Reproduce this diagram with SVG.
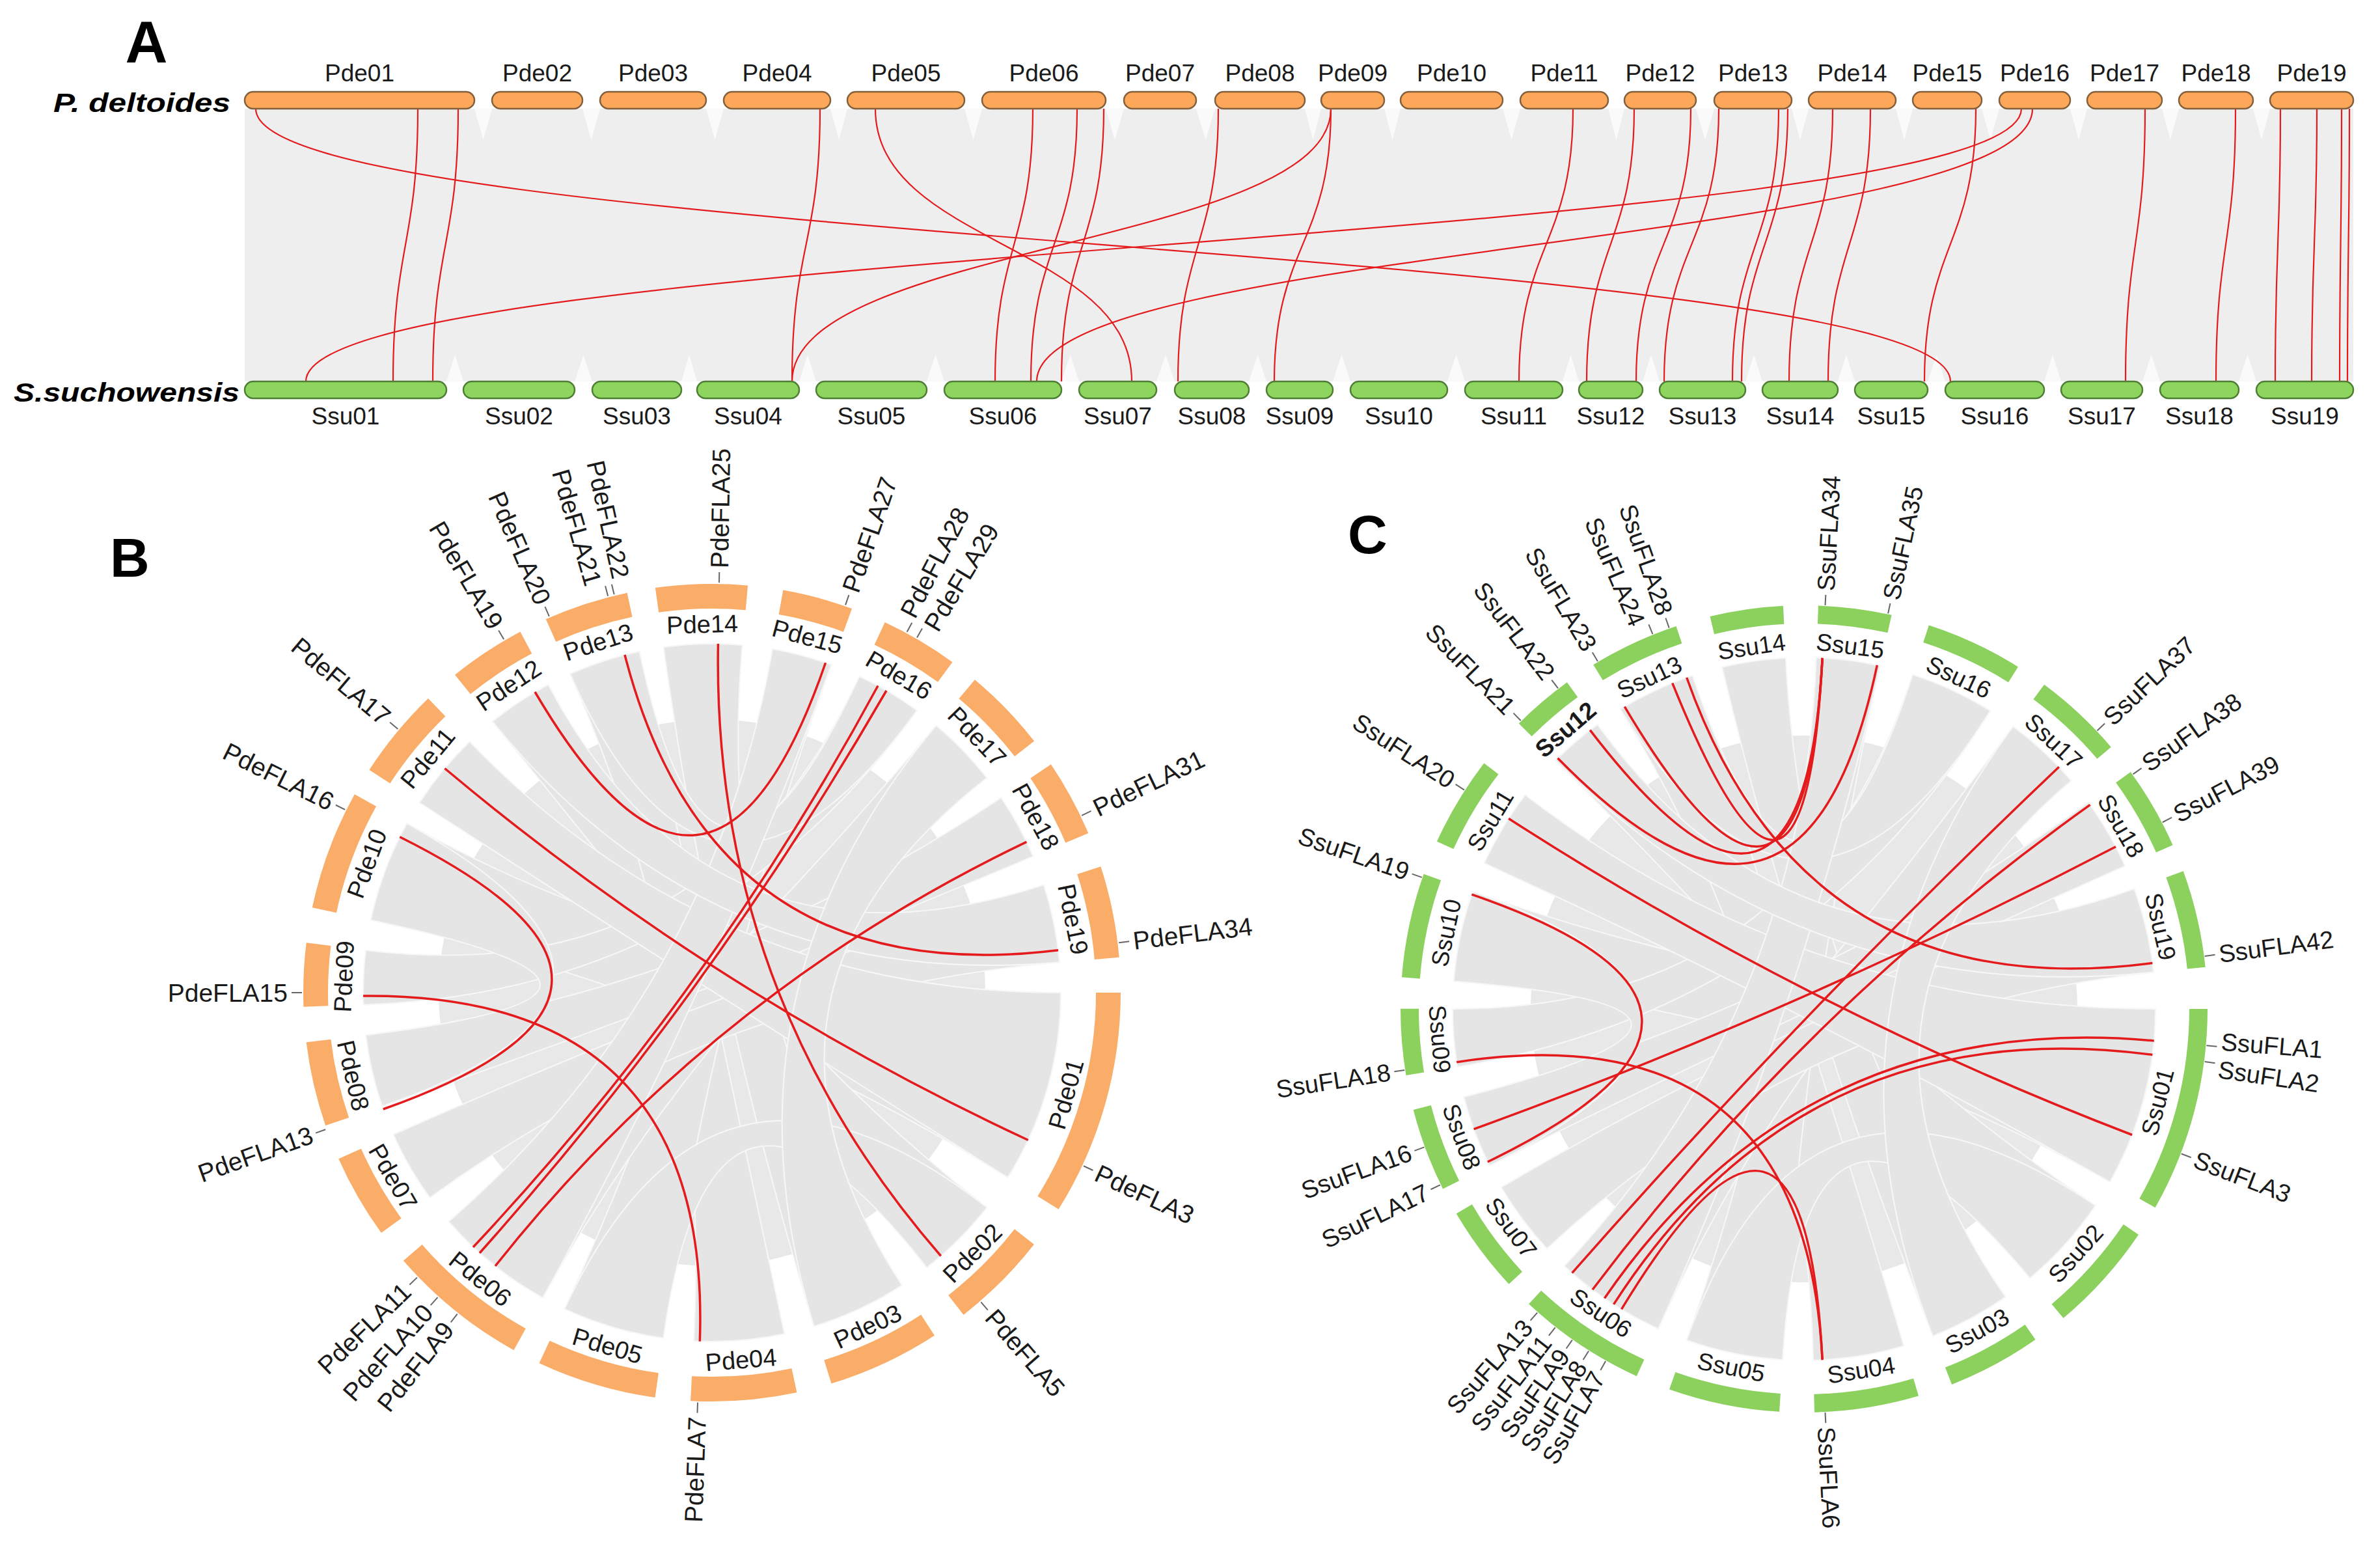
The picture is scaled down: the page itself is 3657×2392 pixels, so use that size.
<svg xmlns="http://www.w3.org/2000/svg" width="3657" height="2392" viewBox="0 0 3657 2392">
<style>
.t{font-family:"Liberation Sans",Arial,sans-serif;fill:#1a1a1a}
.al{font-size:37px;text-anchor:middle}
.cl{font-size:38px;text-anchor:middle;dominant-baseline:central}
.cl2{font-size:37px;text-anchor:middle;dominant-baseline:central}
.gl{font-size:39px;dominant-baseline:central}
.gl2{font-size:38px;dominant-baseline:central}
.gs{text-anchor:start}
.ge{text-anchor:end}
.tk{stroke:#666;stroke-width:2}
.pbar{fill:#FCA75A;stroke:#84603C;stroke-width:2.5}
.sbar{fill:#8DD55F;stroke:#4F7F35;stroke-width:2.5}
.lnk{fill:none;stroke:#E41A1C}
.la{stroke-width:2.2}
.lc{stroke-width:3.5}
.rib{fill:#e5e5e5;stroke:#f7f7f7;stroke-width:2}
.core{fill:#e8e8e8}
.rB{fill:none;stroke:#FAAD68;stroke-width:38}
.rC{fill:none;stroke:#8CD05E;stroke-width:28}
.big{font-family:"Liberation Sans",Arial,sans-serif;font-weight:bold;fill:#000}
</style>
<rect width="3657" height="2392" fill="#fff"/>

<!-- Panel titles -->
<text class="big" x="225" y="96" font-size="90" text-anchor="middle">A</text>
<text class="big" x="169" y="886" font-size="84">B</text>
<text class="big" x="2071" y="850" font-size="84">C</text>
<text class="big" x="82" y="172" font-size="40" font-style="italic" textLength="272" lengthAdjust="spacingAndGlyphs">P. deltoides</text>
<text class="big" x="21" y="617" font-size="40" font-style="italic" textLength="347" lengthAdjust="spacingAndGlyphs">S.suchowensis</text>

<!-- Panel A background -->
<g id="A-background">
<rect x="376" y="167" width="3240" height="419" fill="#eeeeee"/>
<path fill="#fafafa" d="M729,167L756,167L742.5,215ZM895,167L922,167L908.5,215ZM1085,167L1112,167L1098.5,215ZM1276,167L1302,167L1289,215ZM1482,167L1509,167L1495.5,215ZM1699,167L1727,167L1713,215ZM1838,167L1867,167L1852.5,215ZM2005,167L2030,167L2017.5,215ZM2127,167L2152,167L2139.5,215ZM2309,167L2336,167L2322.5,215ZM2471,167L2496,167L2483.5,215ZM2606,167L2634,167L2620,215ZM2753,167L2779,167L2766,215ZM2913,167L2939,167L2926,215ZM3045,167L3072,167L3058.5,215ZM3181,167L3207,167L3194,215ZM3322,167L3348,167L3335,215ZM3462,167L3488,167L3475,215Z"/>
<path fill="#fafafa" d="M686,586L712,586L699,545ZM883,586L910,586L896.5,545ZM1047,586L1071,586L1059,545ZM1228,586L1254,586L1241,545ZM1424,586L1451,586L1437.5,545ZM1631,586L1658,586L1644.5,545ZM1777,586L1805,586L1791,545ZM1919,586L1946,586L1932.5,545ZM2048,586L2075,586L2061.5,545ZM2224,586L2251,586L2237.5,545ZM2401,586L2426,586L2413.5,545ZM2524,586L2550,586L2537,545ZM2682,586L2708,586L2695,545ZM2824,586L2850,586L2837,545ZM2962,586L2989,586L2975.5,545ZM3141,586L3167,586L3154,545ZM3292,586L3319,586L3305.5,545ZM3440,586L3467,586L3453.5,545Z"/>
</g>

<g id="connectors">
<g id="A-links" class="lnk la">
<path d="M393,167C393,376 2997,376 2997,586"/>
<path d="M642,167C642,376 604,376 604,586"/>
<path d="M704,167C704,376 665,376 665,586"/>
<path d="M1260,167C1260,376 1217,376 1217,586"/>
<path d="M1345,167C1345,376 1739,376 1739,586"/>
<path d="M1587,167C1587,376 1529,376 1529,586"/>
<path d="M1655,167C1655,376 1584,376 1584,586"/>
<path d="M1696,167C1696,376 1631,376 1631,586"/>
<path d="M1872,167C1872,376 1810,376 1810,586"/>
<path d="M2045,167C2045,376 1217,376 1217,586"/>
<path d="M2045,167C2045,376 1958,376 1958,586"/>
<path d="M2417,167C2417,376 2334,376 2334,586"/>
<path d="M2511,167C2511,376 2438,376 2438,586"/>
<path d="M2598,167C2598,376 2514,376 2514,586"/>
<path d="M2641,167C2641,376 2557,376 2557,586"/>
<path d="M2733,167C2733,376 2662,376 2662,586"/>
<path d="M2747,167C2747,376 2676,376 2676,586"/>
<path d="M2816,167C2816,376 2749,376 2749,586"/>
<path d="M2874,167C2874,376 2809,376 2809,586"/>
<path d="M3036,167C3036,376 2957,376 2957,586"/>
<path d="M3106,167C3106,376 470,376 470,586"/>
<path d="M3123,167C3123,376 1593,376 1593,586"/>
<path d="M3296,167C3296,376 3266,376 3266,586"/>
<path d="M3435,167C3435,376 3405,376 3405,586"/>
<path d="M3504,167C3504,376 3496,376 3496,586"/>
<path d="M3560,167C3560,376 3552,376 3552,586"/>
<path d="M3598,167C3598,376 3595,376 3595,586"/>
<path d="M3610,167C3610,376 3607,376 3607,586"/>
</g>

<g id="B-ribbons" class="rib">
<circle class="core" cx="1094" cy="1525" r="420" stroke="none"/>
<path d="M1630,1525A536,536 0 0 1 1548.5,1809Q1094,1525 569.7,1413.6A536,536 0 0 1 625.2,1265.1Q1094,1525 1630,1525Z"/>
<path d="M1516.4,1855A536,536 0 0 1 1424,1947.4Q1094,1525 756.7,1108.5A536,536 0 0 1 842.3,1051.8Q1094,1525 1516.4,1855Z"/>
<path d="M1385.9,1974.5A536,536 0 0 1 1250.7,2037.6Q1094,1525 1019.4,994.2A536,536 0 0 1 1140.7,991Q1094,1525 1385.9,1974.5Z"/>
<path d="M1205.4,2049.3A536,536 0 0 1 1066,2060.2Q1094,1525 876,1035.4A536,536 0 0 1 982.6,1000.7Q1094,1525 1205.4,2049.3Z"/>
<path d="M1019.4,2055.8A536,536 0 0 1 867.5,2010.8Q1094,1525 1187,997.1A536,536 0 0 1 1277.3,1021.3Q1094,1525 1019.4,2055.8Z"/>
<path d="M834.1,1993.8A536,536 0 0 1 689.5,1876.7Q1094,1525 1438.5,1114.4A536,536 0 0 1 1516.4,1195Q1094,1525 834.1,1993.8Z"/>
<path d="M660.4,1840.1A536,536 0 0 1 604.4,1743Q1094,1525 1603.8,1359.4A536,536 0 0 1 1628,1478.3Q1094,1525 660.4,1840.1Z"/>
<path d="M587.2,1699.5A536,536 0 0 1 562,1590.3Q1094,1525 1538.3,1225.3A536,536 0 0 1 1587.4,1315.6Q1094,1525 587.2,1699.5Z"/>
<path d="M558.3,1543.7A536,536 0 0 1 562,1459.7Q1094,1525 1320.5,1039.2A536,536 0 0 1 1409.1,1091.4Q1094,1525 558.3,1543.7Z"/>
<path d="M1630,1525A536,536 0 0 1 1548.5,1809Q1094,1525 644.5,1233.1A536,536 0 0 1 721.6,1139.4Q1094,1525 1630,1525Z"/>
<path d="M587.2,1699.5A536,536 0 0 1 562,1590.3Q1094,1525 569.7,1413.6A536,536 0 0 1 625.2,1265.1Q1094,1525 587.2,1699.5Z"/>
<path d="M876,1035.4A536,536 0 0 1 982.6,1000.7Q1094,1525 1320.5,1039.2A536,536 0 0 1 1409.1,1091.4Q1094,1525 876,1035.4Z"/>
<path d="M1516.4,1855A536,536 0 0 1 1424,1947.4Q1094,1525 1019.4,2055.8A536,536 0 0 1 867.5,2010.8Q1094,1525 1516.4,1855Z"/>
<path d="M834.1,1993.8A536,536 0 0 1 689.5,1876.7Q1094,1525 1187,997.1A536,536 0 0 1 1277.3,1021.3Q1094,1525 834.1,1993.8Z"/>
<path d="M756.7,1108.5A536,536 0 0 1 842.3,1051.8Q1094,1525 1603.8,1359.4A536,536 0 0 1 1628,1478.3Q1094,1525 756.7,1108.5Z"/>
<path d="M1438.5,1114.4A536,536 0 0 1 1516.4,1195Q1094,1525 1385.9,1974.5A536,536 0 0 1 1250.7,2037.6Q1094,1525 1438.5,1114.4Z"/>
</g>

<g id="C-ribbons" class="rib">
<circle class="core" cx="2772" cy="1550" r="420" stroke="none"/>
<path d="M3312,1550A540,540 0 0 1 3242,1815.9Q2772,1550 2233.7,1507.6A540,540 0 0 1 2263,1369.7Q2772,1550 3312,1550Z"/>
<path d="M3219.7,1852A540,540 0 0 1 3119.1,1963.6Q2772,1550 2390.2,1168.2A540,540 0 0 1 2454.6,1113.1Q2772,1550 3219.7,1852Z"/>
<path d="M3081.7,1992.4A540,540 0 0 1 2969.9,2052.4Q2772,1550 2646,1024.9A540,540 0 0 1 2743.8,1010.8Q2772,1550 3081.7,1992.4Z"/>
<path d="M2925.4,2067.8A540,540 0 0 1 2786.1,2089.8Q2772,1550 2489.9,1089.6A540,540 0 0 1 2600.7,1037.9Q2772,1550 2925.4,2067.8Z"/>
<path d="M2739.1,2089A540,540 0 0 1 2591.7,2059Q2772,1550 2790.8,1010.3A540,540 0 0 1 2888.9,1022.8Q2772,1550 2739.1,2089Z"/>
<path d="M2548.1,2041.4A540,540 0 0 1 2403.7,1945Q2772,1550 3093.2,1115.9A540,540 0 0 1 3182.6,1199.3Q2772,1550 2548.1,2041.4Z"/>
<path d="M2377,1918.3A540,540 0 0 1 2306.7,1824.1Q2772,1550 3279.4,1365.3A540,540 0 0 1 3309,1493.6Q2772,1550 2377,1918.3Z"/>
<path d="M2288.8,1790.9A540,540 0 0 1 2249.2,1685.2Q2772,1550 3208.9,1232.6A540,540 0 0 1 3265.3,1330.4Q2772,1550 2288.8,1790.9Z"/>
<path d="M2239.4,1639.1A540,540 0 0 1 2232,1550Q2772,1550 2938.9,1036.4A540,540 0 0 1 3058.1,1092.1Q2772,1550 2239.4,1639.1Z"/>
<path d="M3312,1550A540,540 0 0 1 3242,1815.9Q2772,1550 2280.6,1326.1A540,540 0 0 1 2343.6,1221.2Q2772,1550 3312,1550Z"/>
<path d="M2288.8,1790.9A540,540 0 0 1 2249.2,1685.2Q2772,1550 2233.7,1507.6A540,540 0 0 1 2263,1369.7Q2772,1550 2288.8,1790.9Z"/>
<path d="M2489.9,1089.6A540,540 0 0 1 2600.7,1037.9Q2772,1550 2938.9,1036.4A540,540 0 0 1 3058.1,1092.1Q2772,1550 2489.9,1089.6Z"/>
<path d="M3219.7,1852A540,540 0 0 1 3119.1,1963.6Q2772,1550 2739.1,2089A540,540 0 0 1 2591.7,2059Q2772,1550 3219.7,1852Z"/>
<path d="M2548.1,2041.4A540,540 0 0 1 2403.7,1945Q2772,1550 2790.8,1010.3A540,540 0 0 1 2888.9,1022.8Q2772,1550 2548.1,2041.4Z"/>
<path d="M2390.2,1168.2A540,540 0 0 1 2454.6,1113.1Q2772,1550 3279.4,1365.3A540,540 0 0 1 3309,1493.6Q2772,1550 2390.2,1168.2Z"/>
<path d="M3093.2,1115.9A540,540 0 0 1 3182.6,1199.3Q2772,1550 3081.7,1992.4A540,540 0 0 1 2969.9,2052.4Q2772,1550 3093.2,1115.9Z"/>
</g>

<g id="B-links" class="lnk lc">
<path d="M822,1063Q1094,1525 1268.5,1018.2"/>
<path d="M960,1006Q1094,1525 1626,1459.7"/>
<path d="M1103.4,989Q1094,1525 1445.7,1929.5"/>
<path d="M1349,1053.5Q1094,1525 727,1916"/>
<path d="M1362,1061Q1094,1525 737,1925"/>
<path d="M1577.4,1293.4Q1094,1525 761,1945"/>
<path d="M683.4,1180.5Q1094,1525 1579.8,1751.5"/>
<path d="M614.3,1285.8Q1094,1525 588.8,1704"/>
<path d="M558,1530Q1094,1525 1075.3,2060.7"/>
</g>

<g id="C-links" class="lnk lc">
<path d="M2393.5,1164.8Q2772,1550 2884.3,1021.8"/>
<path d="M2443.2,1121.6Q2772,1550 2800.2,1010.8"/>
<path d="M2496.3,1085.7Q2772,1550 2800.2,1010.8"/>
<path d="M2569.7,1049.3Q2772,1550 2800.2,1010.8"/>
<path d="M2591.7,1041Q2772,1550 3307.4,1479.5"/>
<path d="M2318.1,1257.5Q2772,1550 3276.1,1743.5"/>
<path d="M2261.4,1374.2Q2772,1550 2285.8,1785"/>
<path d="M2238.2,1631.7Q2772,1550 2800.2,2089.2"/>
<path d="M2264.6,1734.7Q2772,1550 3251,1300.7"/>
<path d="M2415.6,1955.7Q2772,1550 3163.7,1178.3"/>
<path d="M2447,1981.2Q2772,1550 3211.6,1236.4"/>
<path d="M2465.4,1994.5Q2772,1550 3309.8,1598.9"/>
<path d="M2479.5,2003.9Q2772,1550 3307.4,1620.5"/>
<path d="M2491.5,2011.4Q2772,1550 2800.2,2089.2"/>
</g>
</g>

<!-- Panel A nodes -->
<g id="A-Pde">
<g id="Pde01"><rect class="pbar" x="376" y="141" width="353" height="26" rx="13"/><text class="t al" x="552.5" y="125">Pde01</text></g>
<g id="Pde02"><rect class="pbar" x="756" y="141" width="139" height="26" rx="13"/><text class="t al" x="825.5" y="125">Pde02</text></g>
<g id="Pde03"><rect class="pbar" x="922" y="141" width="163" height="26" rx="13"/><text class="t al" x="1003.5" y="125">Pde03</text></g>
<g id="Pde04"><rect class="pbar" x="1112" y="141" width="164" height="26" rx="13"/><text class="t al" x="1194" y="125">Pde04</text></g>
<g id="Pde05"><rect class="pbar" x="1302" y="141" width="180" height="26" rx="13"/><text class="t al" x="1392" y="125">Pde05</text></g>
<g id="Pde06"><rect class="pbar" x="1509" y="141" width="190" height="26" rx="13"/><text class="t al" x="1604" y="125">Pde06</text></g>
<g id="Pde07"><rect class="pbar" x="1727" y="141" width="111" height="26" rx="13"/><text class="t al" x="1782.5" y="125">Pde07</text></g>
<g id="Pde08"><rect class="pbar" x="1867" y="141" width="138" height="26" rx="13"/><text class="t al" x="1936" y="125">Pde08</text></g>
<g id="Pde09"><rect class="pbar" x="2030" y="141" width="97" height="26" rx="13"/><text class="t al" x="2078.5" y="125">Pde09</text></g>
<g id="Pde10"><rect class="pbar" x="2152" y="141" width="157" height="26" rx="13"/><text class="t al" x="2230.5" y="125">Pde10</text></g>
<g id="Pde11"><rect class="pbar" x="2336" y="141" width="135" height="26" rx="13"/><text class="t al" x="2403.5" y="125">Pde11</text></g>
<g id="Pde12"><rect class="pbar" x="2496" y="141" width="110" height="26" rx="13"/><text class="t al" x="2551" y="125">Pde12</text></g>
<g id="Pde13"><rect class="pbar" x="2634" y="141" width="119" height="26" rx="13"/><text class="t al" x="2693.5" y="125">Pde13</text></g>
<g id="Pde14"><rect class="pbar" x="2779" y="141" width="134" height="26" rx="13"/><text class="t al" x="2846" y="125">Pde14</text></g>
<g id="Pde15"><rect class="pbar" x="2939" y="141" width="106" height="26" rx="13"/><text class="t al" x="2992" y="125">Pde15</text></g>
<g id="Pde16"><rect class="pbar" x="3072" y="141" width="109" height="26" rx="13"/><text class="t al" x="3126.5" y="125">Pde16</text></g>
<g id="Pde17"><rect class="pbar" x="3207" y="141" width="115" height="26" rx="13"/><text class="t al" x="3264.5" y="125">Pde17</text></g>
<g id="Pde18"><rect class="pbar" x="3348" y="141" width="114" height="26" rx="13"/><text class="t al" x="3405" y="125">Pde18</text></g>
<g id="Pde19"><rect class="pbar" x="3488" y="141" width="128" height="26" rx="13"/><text class="t al" x="3552" y="125">Pde19</text></g>
</g>
<g id="A-Ssu">
<g id="Ssu01"><rect class="sbar" x="376" y="586" width="310" height="26" rx="13"/><text class="t al" x="531" y="652">Ssu01</text></g>
<g id="Ssu02"><rect class="sbar" x="712" y="586" width="171" height="26" rx="13"/><text class="t al" x="797.5" y="652">Ssu02</text></g>
<g id="Ssu03"><rect class="sbar" x="910" y="586" width="137" height="26" rx="13"/><text class="t al" x="978.5" y="652">Ssu03</text></g>
<g id="Ssu04"><rect class="sbar" x="1071" y="586" width="157" height="26" rx="13"/><text class="t al" x="1149.5" y="652">Ssu04</text></g>
<g id="Ssu05"><rect class="sbar" x="1254" y="586" width="170" height="26" rx="13"/><text class="t al" x="1339" y="652">Ssu05</text></g>
<g id="Ssu06"><rect class="sbar" x="1451" y="586" width="180" height="26" rx="13"/><text class="t al" x="1541" y="652">Ssu06</text></g>
<g id="Ssu07"><rect class="sbar" x="1658" y="586" width="119" height="26" rx="13"/><text class="t al" x="1717.5" y="652">Ssu07</text></g>
<g id="Ssu08"><rect class="sbar" x="1805" y="586" width="114" height="26" rx="13"/><text class="t al" x="1862" y="652">Ssu08</text></g>
<g id="Ssu09"><rect class="sbar" x="1946" y="586" width="102" height="26" rx="13"/><text class="t al" x="1997" y="652">Ssu09</text></g>
<g id="Ssu10"><rect class="sbar" x="2075" y="586" width="149" height="26" rx="13"/><text class="t al" x="2149.5" y="652">Ssu10</text></g>
<g id="Ssu11"><rect class="sbar" x="2251" y="586" width="150" height="26" rx="13"/><text class="t al" x="2326" y="652">Ssu11</text></g>
<g id="Ssu12"><rect class="sbar" x="2426" y="586" width="98" height="26" rx="13"/><text class="t al" x="2475" y="652">Ssu12</text></g>
<g id="Ssu13"><rect class="sbar" x="2550" y="586" width="132" height="26" rx="13"/><text class="t al" x="2616" y="652">Ssu13</text></g>
<g id="Ssu14"><rect class="sbar" x="2708" y="586" width="116" height="26" rx="13"/><text class="t al" x="2766" y="652">Ssu14</text></g>
<g id="Ssu15"><rect class="sbar" x="2850" y="586" width="112" height="26" rx="13"/><text class="t al" x="2906" y="652">Ssu15</text></g>
<g id="Ssu16"><rect class="sbar" x="2989" y="586" width="152" height="26" rx="13"/><text class="t al" x="3065" y="652">Ssu16</text></g>
<g id="Ssu17"><rect class="sbar" x="3167" y="586" width="125" height="26" rx="13"/><text class="t al" x="3229.5" y="652">Ssu17</text></g>
<g id="Ssu18"><rect class="sbar" x="3319" y="586" width="121" height="26" rx="13"/><text class="t al" x="3379.5" y="652">Ssu18</text></g>
<g id="Ssu19"><rect class="sbar" x="3467" y="586" width="149" height="26" rx="13"/><text class="t al" x="3541.5" y="652">Ssu19</text></g>
</g>

<!-- Panel B nodes -->
<g id="B-chromosomes">
<g id="B-Pde01"><circle class="rB" cx="1094" cy="1525" r="609" stroke-dasharray="340.1 9999" stroke-dashoffset="0"/><text class="t cl" transform="translate(1094,1525) rotate(106) translate(0,-566) rotate(180)">Pde01</text></g>
<g id="B-Pde02"><circle class="rB" cx="1094" cy="1525" r="609" stroke-dasharray="148.8 9999" stroke-dashoffset="-403.9"/><text class="t cl" transform="translate(1094,1525) rotate(135) translate(0,-566) rotate(180)">Pde02</text></g>
<g id="B-Pde03"><circle class="rB" cx="1094" cy="1525" r="609" stroke-dasharray="170.1 9999" stroke-dashoffset="-605.9"/><text class="t cl" transform="translate(1094,1525) rotate(155) translate(0,-566) rotate(180)">Pde03</text></g>
<g id="B-Pde04"><circle class="rB" cx="1094" cy="1525" r="609" stroke-dasharray="159.4 9999" stroke-dashoffset="-829.1"/><text class="t cl" transform="translate(1094,1525) rotate(175.5) translate(0,-566) rotate(180)">Pde04</text></g>
<g id="B-Pde05"><circle class="rB" cx="1094" cy="1525" r="609" stroke-dasharray="180.7 9999" stroke-dashoffset="-1041.6"/><text class="t cl" transform="translate(1094,1525) rotate(196.5) translate(0,-566) rotate(180)">Pde05</text></g>
<g id="B-Pde06"><circle class="rB" cx="1094" cy="1525" r="609" stroke-dasharray="212.6 9999" stroke-dashoffset="-1264.9"/><text class="t cl" transform="translate(1094,1525) rotate(219) translate(0,-566) rotate(180)">Pde06</text></g>
<g id="B-Pde07"><circle class="rB" cx="1094" cy="1525" r="609" stroke-dasharray="127.5 9999" stroke-dashoffset="-1530.6"/><text class="t cl" transform="translate(1094,1525) rotate(240) translate(0,-566) rotate(180)">Pde07</text></g>
<g id="B-Pde08"><circle class="rB" cx="1094" cy="1525" r="609" stroke-dasharray="127.5 9999" stroke-dashoffset="-1711.3"/><text class="t cl" transform="translate(1094,1525) rotate(257) translate(0,-566) rotate(180)">Pde08</text></g>
<g id="B-Pde09"><circle class="rB" cx="1094" cy="1525" r="609" stroke-dasharray="95.7 9999" stroke-dashoffset="-1892"/><text class="t cl" transform="translate(1094,1525) rotate(272.5) translate(0,-566)">Pde09</text></g>
<g id="B-Pde10"><circle class="rB" cx="1094" cy="1525" r="609" stroke-dasharray="180.7 9999" stroke-dashoffset="-2040.8"/><text class="t cl" transform="translate(1094,1525) rotate(290.5) translate(0,-566)">Pde10</text></g>
<g id="B-Pde11"><circle class="rB" cx="1094" cy="1525" r="609" stroke-dasharray="138.2 9999" stroke-dashoffset="-2264"/><text class="t cl" transform="translate(1094,1525) rotate(309.5) translate(0,-566)">Pde11</text></g>
<g id="B-Pde12"><circle class="rB" cx="1094" cy="1525" r="609" stroke-dasharray="116.9 9999" stroke-dashoffset="-2455.3"/><text class="t cl" transform="translate(1094,1525) rotate(326.5) translate(0,-566)">Pde12</text></g>
<g id="B-Pde13"><circle class="rB" cx="1094" cy="1525" r="609" stroke-dasharray="127.5 9999" stroke-dashoffset="-2614.7"/><text class="t cl" transform="translate(1094,1525) rotate(342) translate(0,-566)">Pde13</text></g>
<g id="B-Pde14"><circle class="rB" cx="1094" cy="1525" r="609" stroke-dasharray="138.2 9999" stroke-dashoffset="-2784.8"/><text class="t cl" transform="translate(1094,1525) rotate(358.5) translate(0,-566)">Pde14</text></g>
<g id="B-Pde15"><circle class="rB" cx="1094" cy="1525" r="609" stroke-dasharray="106.3 9999" stroke-dashoffset="-2976.1"/><text class="t cl" transform="translate(1094,1525) rotate(15) translate(0,-566)">Pde15</text></g>
<g id="B-Pde16"><circle class="rB" cx="1094" cy="1525" r="609" stroke-dasharray="116.9 9999" stroke-dashoffset="-3135.6"/><text class="t cl" transform="translate(1094,1525) rotate(30.5) translate(0,-566)">Pde16</text></g>
<g id="B-Pde17"><circle class="rB" cx="1094" cy="1525" r="609" stroke-dasharray="127.5 9999" stroke-dashoffset="-3295"/><text class="t cl" transform="translate(1094,1525) rotate(46) translate(0,-566)">Pde17</text></g>
<g id="B-Pde18"><circle class="rB" cx="1094" cy="1525" r="609" stroke-dasharray="116.9 9999" stroke-dashoffset="-3465.1"/><text class="t cl" transform="translate(1094,1525) rotate(61.5) translate(0,-566)">Pde18</text></g>
<g id="B-Pde19"><circle class="rB" cx="1094" cy="1525" r="609" stroke-dasharray="138.2 9999" stroke-dashoffset="-3635.1"/><text class="t cl" transform="translate(1094,1525) rotate(78.5) translate(0,-566)">Pde19</text></g>
</g>

<g id="B-genes" transform="translate(1094,1525)">
<line class="tk" transform="rotate(1)" y1="-630" y2="-646"/><text class="t gl gs" transform="rotate(1) translate(0,-652) rotate(-90)">PdeFLA25</text>
<line class="tk" transform="rotate(19)" y1="-630" y2="-646"/><text class="t gl gs" transform="rotate(19) translate(0,-652) rotate(-90)">PdeFLA27</text>
<line class="tk" transform="rotate(28.4)" y1="-630" y2="-646"/><text class="t gl gs" transform="rotate(27.4) translate(0,-652) rotate(-90)">PdeFLA28</text>
<line class="tk" transform="rotate(30)" y1="-630" y2="-646"/><text class="t gl gs" transform="rotate(31) translate(0,-652) rotate(-90)">PdeFLA29</text>
<line class="tk" transform="rotate(64.4)" y1="-630" y2="-646"/><text class="t gl gs" transform="rotate(64.4) translate(0,-652) rotate(-90)">PdeFLA31</text>
<line class="tk" transform="rotate(83)" y1="-630" y2="-646"/><text class="t gl gs" transform="rotate(83) translate(0,-652) rotate(-90)">PdeFLA34</text>
<line class="tk" transform="rotate(115)" y1="-630" y2="-646"/><text class="t gl gs" transform="rotate(115) translate(0,-652) rotate(-90)">PdeFLA3</text>
<line class="tk" transform="rotate(139)" y1="-630" y2="-646"/><text class="t gl gs" transform="rotate(139) translate(0,-652) rotate(-90)">PdeFLA5</text>
<line class="tk" transform="rotate(182)" y1="-630" y2="-646"/><text class="t gl ge" transform="rotate(182) translate(0,-652) rotate(90)">PdeFLA7</text>
<line class="tk" transform="rotate(218.4)" y1="-630" y2="-646"/><text class="t gl ge" transform="rotate(218.4) translate(0,-652) rotate(90)">PdeFLA9</text>
<line class="tk" transform="rotate(222)" y1="-630" y2="-646"/><text class="t gl ge" transform="rotate(222) translate(0,-652) rotate(90)">PdeFLA10</text>
<line class="tk" transform="rotate(226)" y1="-630" y2="-646"/><text class="t gl ge" transform="rotate(226) translate(0,-652) rotate(90)">PdeFLA11</text>
<line class="tk" transform="rotate(250.5)" y1="-630" y2="-646"/><text class="t gl ge" transform="rotate(250.5) translate(0,-652) rotate(90)">PdeFLA13</text>
<line class="tk" transform="rotate(270)" y1="-630" y2="-646"/><text class="t gl ge" transform="rotate(270) translate(0,-652) rotate(90)">PdeFLA15</text>
<line class="tk" transform="rotate(296.5)" y1="-630" y2="-646"/><text class="t gl ge" transform="rotate(296.5) translate(0,-652) rotate(90)">PdeFLA16</text>
<line class="tk" transform="rotate(310)" y1="-630" y2="-646"/><text class="t gl ge" transform="rotate(310) translate(0,-652) rotate(90)">PdeFLA17</text>
<line class="tk" transform="rotate(329.5)" y1="-630" y2="-646"/><text class="t gl ge" transform="rotate(329.5) translate(0,-652) rotate(90)">PdeFLA19</text>
<line class="tk" transform="rotate(336.6)" y1="-630" y2="-646"/><text class="t gl ge" transform="rotate(336.6) translate(0,-652) rotate(90)">PdeFLA20</text>
<line class="tk" transform="rotate(345.3)" y1="-630" y2="-646"/><text class="t gl ge" transform="rotate(343.8) translate(0,-652) rotate(90)">PdeFLA21</text>
<line class="tk" transform="rotate(346.2)" y1="-630" y2="-646"/><text class="t gl ge" transform="rotate(347.6) translate(0,-652) rotate(90)">PdeFLA22</text>
</g>

<!-- Panel C nodes -->
<g id="C-chromosomes">
<g id="C-Ssu01"><circle class="rC" cx="2772" cy="1550" r="606" stroke-dasharray="312 9999" stroke-dashoffset="0"/><text class="t cl2" transform="translate(2772,1550) rotate(104.75) translate(0,-562) rotate(180)">Ssu01</text></g>
<g id="C-Ssu02"><circle class="rC" cx="2772" cy="1550" r="606" stroke-dasharray="169.2 9999" stroke-dashoffset="-359.6"/><text class="t cl2" transform="translate(2772,1550) rotate(132) translate(0,-562) rotate(180)">Ssu02</text></g>
<g id="C-Ssu03"><circle class="rC" cx="2772" cy="1550" r="606" stroke-dasharray="142.8 9999" stroke-dashoffset="-581.7"/><text class="t cl2" transform="translate(2772,1550) rotate(151.75) translate(0,-562) rotate(180)">Ssu03</text></g>
<g id="C-Ssu04"><circle class="rC" cx="2772" cy="1550" r="606" stroke-dasharray="158.7 9999" stroke-dashoffset="-777.4"/><text class="t cl2" transform="translate(2772,1550) rotate(171) translate(0,-562) rotate(180)">Ssu04</text></g>
<g id="C-Ssu05"><circle class="rC" cx="2772" cy="1550" r="606" stroke-dasharray="169.2 9999" stroke-dashoffset="-988.9"/><text class="t cl2" transform="translate(2772,1550) rotate(191.5) translate(0,-562) rotate(180)">Ssu05</text></g>
<g id="C-Ssu06"><circle class="rC" cx="2772" cy="1550" r="606" stroke-dasharray="195.7 9999" stroke-dashoffset="-1211"/><text class="t cl2" transform="translate(2772,1550) rotate(213.75) translate(0,-562) rotate(180)">Ssu06</text></g>
<g id="C-Ssu07"><circle class="rC" cx="2772" cy="1550" r="606" stroke-dasharray="132.2 9999" stroke-dashoffset="-1449"/><text class="t cl2" transform="translate(2772,1550) rotate(233.25) translate(0,-562) rotate(180)">Ssu07</text></g>
<g id="C-Ssu08"><circle class="rC" cx="2772" cy="1550" r="606" stroke-dasharray="126.9 9999" stroke-dashoffset="-1623.5"/><text class="t cl2" transform="translate(2772,1550) rotate(249.5) translate(0,-562) rotate(180)">Ssu08</text></g>
<g id="C-Ssu09"><circle class="rC" cx="2772" cy="1550" r="606" stroke-dasharray="100.5 9999" stroke-dashoffset="-1803.3"/><text class="t cl2" transform="translate(2772,1550) rotate(265.25) translate(0,-562) rotate(180)">Ssu09</text></g>
<g id="C-Ssu10"><circle class="rC" cx="2772" cy="1550" r="606" stroke-dasharray="158.7 9999" stroke-dashoffset="-1951.4"/><text class="t cl2" transform="translate(2772,1550) rotate(282) translate(0,-562)">Ssu10</text></g>
<g id="C-Ssu11"><circle class="rC" cx="2772" cy="1550" r="606" stroke-dasharray="137.5 9999" stroke-dashoffset="-2162.9"/><text class="t cl2" transform="translate(2772,1550) rotate(301) translate(0,-562)">Ssu11</text></g>
<g id="C-Ssu12"><circle class="rC" cx="2772" cy="1550" r="606" stroke-dasharray="95.2 9999" stroke-dashoffset="-2379.8"/><text class="t cl2" font-size="32" font-weight="bold" transform="translate(2772,1550) rotate(319.5) translate(0,-564)">Ssu12</text></g>
<g id="C-Ssu13"><circle class="rC" cx="2772" cy="1550" r="606" stroke-dasharray="137.5 9999" stroke-dashoffset="-2522.5"/><text class="t cl2" transform="translate(2772,1550) rotate(335) translate(0,-562)">Ssu13</text></g>
<g id="C-Ssu14"><circle class="rC" cx="2772" cy="1550" r="606" stroke-dasharray="111.1 9999" stroke-dashoffset="-2712.9"/><text class="t cl2" transform="translate(2772,1550) rotate(351.75) translate(0,-562)">Ssu14</text></g>
<g id="C-Ssu15"><circle class="rC" cx="2772" cy="1550" r="606" stroke-dasharray="111.1 9999" stroke-dashoffset="-2876.9"/><text class="t cl2" transform="translate(2772,1550) rotate(7.25) translate(0,-562)">Ssu15</text></g>
<g id="C-Ssu16"><circle class="rC" cx="2772" cy="1550" r="606" stroke-dasharray="148.1 9999" stroke-dashoffset="-3046.1"/><text class="t cl2" transform="translate(2772,1550) rotate(25) translate(0,-562)">Ssu16</text></g>
<g id="C-Ssu17"><circle class="rC" cx="2772" cy="1550" r="606" stroke-dasharray="137.5 9999" stroke-dashoffset="-3241.8"/><text class="t cl2" transform="translate(2772,1550) rotate(43) translate(0,-562)">Ssu17</text></g>
<g id="C-Ssu18"><circle class="rC" cx="2772" cy="1550" r="606" stroke-dasharray="126.9 9999" stroke-dashoffset="-3426.9"/><text class="t cl2" transform="translate(2772,1550) rotate(60) translate(0,-562)">Ssu18</text></g>
<g id="C-Ssu19"><circle class="rC" cx="2772" cy="1550" r="606" stroke-dasharray="148.1 9999" stroke-dashoffset="-3596.1"/><text class="t cl2" transform="translate(2772,1550) rotate(77) translate(0,-562)">Ssu19</text></g>
</g>

<g id="C-genes" transform="translate(2772,1550)">
<line class="tk" transform="rotate(3)" y1="-621" y2="-637"/><text class="t gl2 gs" transform="rotate(3) translate(0,-643) rotate(-90)">SsuFLA34</text>
<line class="tk" transform="rotate(12)" y1="-621" y2="-637"/><text class="t gl2 gs" transform="rotate(12) translate(0,-643) rotate(-90)">SsuFLA35</text>
<line class="tk" transform="rotate(46.5)" y1="-621" y2="-637"/><text class="t gl2 gs" transform="rotate(46.5) translate(0,-643) rotate(-90)">SsuFLA37</text>
<line class="tk" transform="rotate(54.5)" y1="-621" y2="-637"/><text class="t gl2 gs" transform="rotate(54.5) translate(0,-643) rotate(-90)">SsuFLA38</text>
<line class="tk" transform="rotate(62.5)" y1="-621" y2="-637"/><text class="t gl2 gs" transform="rotate(62.5) translate(0,-643) rotate(-90)">SsuFLA39</text>
<line class="tk" transform="rotate(82.5)" y1="-621" y2="-637"/><text class="t gl2 gs" transform="rotate(82.5) translate(0,-643) rotate(-90)">SsuFLA42</text>
<line class="tk" transform="rotate(95.2)" y1="-621" y2="-637"/><text class="t gl2 gs" transform="rotate(94.5) translate(0,-643) rotate(-90)">SsuFLA1</text>
<line class="tk" transform="rotate(97.5)" y1="-621" y2="-637"/><text class="t gl2 gs" transform="rotate(98.3) translate(0,-643) rotate(-90)">SsuFLA2</text>
<line class="tk" transform="rotate(111)" y1="-621" y2="-637"/><text class="t gl2 gs" transform="rotate(111) translate(0,-643) rotate(-90)">SsuFLA3</text>
<line class="tk" transform="rotate(177)" y1="-621" y2="-637"/><text class="t gl2 gs" transform="rotate(177) translate(0,-643) rotate(-90)">SsuFLA6</text>
<line class="tk" transform="rotate(209.4)" y1="-621" y2="-637"/><text class="t gl2 ge" transform="rotate(209.4) translate(0,-643) rotate(90)">SsuFLA7</text>
<line class="tk" transform="rotate(212.2)" y1="-621" y2="-637"/><text class="t gl2 ge" transform="rotate(212.2) translate(0,-643) rotate(90)">SsuFLA8</text>
<line class="tk" transform="rotate(215)" y1="-621" y2="-637"/><text class="t gl2 ge" transform="rotate(215) translate(0,-643) rotate(90)">SsuFLA9</text>
<line class="tk" transform="rotate(218)" y1="-621" y2="-637"/><text class="t gl2 ge" transform="rotate(218) translate(0,-643) rotate(90)">SsuFLA11</text>
<line class="tk" transform="rotate(221.3)" y1="-621" y2="-637"/><text class="t gl2 ge" transform="rotate(221.3) translate(0,-643) rotate(90)">SsuFLA13</text>
<line class="tk" transform="rotate(244.2)" y1="-621" y2="-637"/><text class="t gl2 ge" transform="rotate(244.2) translate(0,-643) rotate(90)">SsuFLA17</text>
<line class="tk" transform="rotate(250)" y1="-621" y2="-637"/><text class="t gl2 ge" transform="rotate(250) translate(0,-643) rotate(90)">SsuFLA16</text>
<line class="tk" transform="rotate(261.3)" y1="-621" y2="-637"/><text class="t gl2 ge" transform="rotate(261.3) translate(0,-643) rotate(90)">SsuFLA18</text>
<line class="tk" transform="rotate(289)" y1="-621" y2="-637"/><text class="t gl2 ge" transform="rotate(289) translate(0,-643) rotate(90)">SsuFLA19</text>
<line class="tk" transform="rotate(302.8)" y1="-621" y2="-637"/><text class="t gl2 ge" transform="rotate(302.8) translate(0,-643) rotate(90)">SsuFLA20</text>
<line class="tk" transform="rotate(315.5)" y1="-621" y2="-637"/><text class="t gl2 ge" transform="rotate(315.5) translate(0,-643) rotate(90)">SsuFLA21</text>
<line class="tk" transform="rotate(322.5)" y1="-621" y2="-637"/><text class="t gl2 ge" transform="rotate(322.5) translate(0,-643) rotate(90)">SsuFLA22</text>
<line class="tk" transform="rotate(329.3)" y1="-621" y2="-637"/><text class="t gl2 ge" transform="rotate(329.3) translate(0,-643) rotate(90)">SsuFLA23</text>
<line class="tk" transform="rotate(338)" y1="-621" y2="-637"/><text class="t gl2 ge" transform="rotate(336.6) translate(0,-643) rotate(90)">SsuFLA24</text>
<line class="tk" transform="rotate(340.5)" y1="-621" y2="-637"/><text class="t gl2 ge" transform="rotate(340.6) translate(0,-643) rotate(90)">SsuFLA28</text>
</g>
</svg>
